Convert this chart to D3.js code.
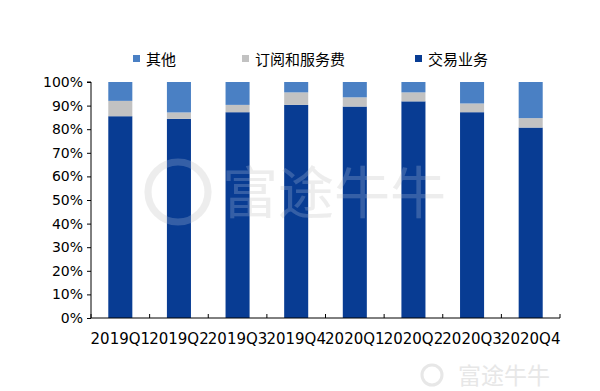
<!DOCTYPE html>
<html>
<head>
<meta charset="utf-8">
<script src="https://cdn.jsdelivr.net/npm/d3@7"></script>
<style>
html,body{margin:0;padding:0;background:#fff;}
svg{display:block;}
</style>
</head>
<body>
<svg id="chart" width="600" height="391"></svg>
<script>
const categories = ["2019Q1","2019Q2","2019Q3","2019Q4","2020Q1","2020Q2","2020Q3","2020Q4"];
const trading = [85.5, 84.4, 87.2, 90.3, 89.6, 91.8, 87.2, 80.7];
const subscription = [6.5, 2.7, 3.1, 5.3, 3.9, 3.8, 3.7, 4.0];
const others = [8.0, 12.9, 9.7, 4.4, 6.5, 4.4, 9.1, 15.3];
const seriesNames = ["交易业务","订阅和服务费","其他"];
const legendOrder = ["其他","订阅和服务费","交易业务"];
const yTicks = [0,0.1,0.2,0.3,0.4,0.5,0.6,0.7,0.8,0.9,1.0];
const colors = {"交易业务":"#083c93","订阅和服务费":"#c2c2c2","其他":"#4a80c4"};

const rows = categories.map((c,i)=>({cat:c,"交易业务":trading[i]/100,"订阅和服务费":subscription[i]/100,"其他":others[i]/100}));
const stacked = d3.stack().keys(seriesNames)(rows);

const svg = d3.select("#chart");
const mLeft = 91, mRight = 560, mTop = 82, mBottom = 318;

const x = d3.scaleBand().domain(categories).range([mLeft,mRight]).paddingInner(0.59).paddingOuter(0.295);
const y = d3.scaleLinear().domain([0,1]).range([mBottom,mTop]);

// watermark
const wm = svg.append("g").attr("opacity",0.5);
wm.append("circle").attr("cx",178).attr("cy",192).attr("r",30).attr("fill","none").attr("stroke","#d6d6d6").attr("stroke-width",7);
wm.append("text").attr("x",222).attr("y",213).attr("font-family","Noto Sans CJK SC").attr("font-size",56).attr("fill","#d6d6d6").text("富途牛牛");

// bars
const g = svg.append("g");
stacked.forEach(s=>{
  g.selectAll(null).data(s).enter().append("rect")
    .attr("x",d=>x(d.data.cat))
    .attr("width",x.bandwidth())
    .attr("y",d=>y(d[1]))
    .attr("height",d=>y(d[0])-y(d[1]))
    .attr("fill",colors[s.key]);
});

// watermark overlay on bars
const wm2 = svg.append("g").attr("opacity",0.18);
wm2.append("circle").attr("cx",178).attr("cy",192).attr("r",30).attr("fill","none").attr("stroke","#ffffff").attr("stroke-width",7);
wm2.append("text").attr("x",222).attr("y",213).attr("font-family","Noto Sans CJK SC").attr("font-size",56).attr("fill","#ffffff").text("富途牛牛");

// y axis
const yAxis = d3.axisLeft(y).tickValues(yTicks).tickFormat(d3.format(".0%")).tickSize(4).tickPadding(4);
const ya = svg.append("g").attr("transform",`translate(${mLeft},0)`).call(yAxis);
ya.select(".domain").attr("stroke","#000").attr("d",`M-4,${mTop}H0V${mBottom}`);
ya.selectAll(".tick line").attr("stroke","#000");
ya.selectAll(".tick text").attr("font-family","DejaVu Sans").attr("font-size",14).attr("fill","#000");

// x axis
const xAxis = d3.axisBottom(x).tickSize(0).tickPadding(15);
const xa = svg.append("g").attr("transform",`translate(0,${mBottom})`).call(xAxis);
xa.select(".domain").attr("stroke","#000").attr("d",`M${mLeft},0H${mRight}`);
xa.selectAll(".tick text").attr("font-family","DejaVu Sans").attr("font-size",15).attr("fill","#000");
const step = x.step();
const bounds = d3.range(categories.length+1).map(i=>mLeft + i*step);
xa.selectAll(".bnd").data(bounds).enter().append("line")
  .attr("x1",d=>d).attr("x2",d=>d).attr("y1",0).attr("y2",-4).attr("stroke","#000");

// legend
const legendX = [133, 242, 415];
const lg = svg.append("g");
legendOrder.forEach((k,i)=>{
  lg.append("rect").attr("x",legendX[i]).attr("y",55).attr("width",7).attr("height",7).attr("fill",colors[k]);
  lg.append("text").attr("x",legendX[i]+13).attr("y",64.5).attr("font-family","Noto Sans CJK SC").attr("font-size",15).attr("fill","#000").text(k);
});

// bottom-right watermark
const wm3 = svg.append("g").attr("opacity",0.5);
wm3.append("circle").attr("cx",432).attr("cy",375).attr("r",10).attr("fill","none").attr("stroke","#d0d0d0").attr("stroke-width",3);
wm3.append("text").attr("x",458).attr("y",384).attr("font-family","Noto Sans CJK SC").attr("font-size",23).attr("fill","#d0d0d0").text("富途牛牛");
</script>
</body>
</html>
